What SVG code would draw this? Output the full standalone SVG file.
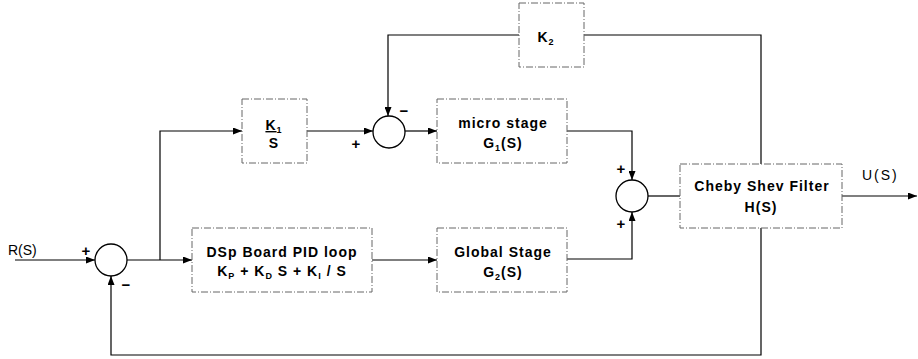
<svg xmlns="http://www.w3.org/2000/svg" width="918" height="359" viewBox="0 0 918 359">
<style>
.box{fill:#fff;stroke:#666;stroke-width:1;stroke-dasharray:7,2,1,2}
.sum{fill:#fff;stroke:#000;stroke-width:1.3}
.ln{fill:none;stroke:#000;stroke-width:1.2}
.lbl{font-family:"Liberation Sans",Arial,sans-serif;font-weight:bold;font-size:14px;fill:#000;text-anchor:middle;letter-spacing:1px}
.sub{font-size:9px}
.sg{font-family:"Liberation Sans",Arial,sans-serif;font-weight:bold;font-size:15px;fill:#000;text-anchor:middle}
.io{font-family:"Liberation Sans",Arial,sans-serif;font-size:14px;fill:#000}
</style>
<defs>
<marker id="ar" markerWidth="9" markerHeight="7" refX="9" refY="3.5" orient="auto" markerUnits="userSpaceOnUse">
<path d="M0,0 L9,3.5 L0,7 Z" fill="#000"/>
</marker>
</defs>
<rect width="918" height="359" fill="#fff"/>
<g id="connectors">
<path class="ln" d="M15,260 H95" marker-end="url(#ar)"/>
<path class="ln" d="M127,260 H192" marker-end="url(#ar)"/>
<path class="ln" d="M160,260 V131 H242" marker-end="url(#ar)"/>
<path class="ln" d="M307,131 H373" marker-end="url(#ar)"/>
<path class="ln" d="M405,131 H437" marker-end="url(#ar)"/>
<path class="ln" d="M519,35 H388 V116" marker-end="url(#ar)"/>
<path class="ln" d="M584,35 H761 V164"/>
<path class="ln" d="M372,260 H437" marker-end="url(#ar)"/>
<path class="ln" d="M567,131 H632 V180" marker-end="url(#ar)"/>
<path class="ln" d="M567,259 H632 V212" marker-end="url(#ar)"/>
<path class="ln" d="M648,196 H680"/>
<path class="ln" d="M842,196 H917" marker-end="url(#ar)"/>
<path class="ln" d="M761,228 V355 H111 V276" marker-end="url(#ar)"/>
</g>
<g id="sum1">
<circle class="sum" cx="111" cy="260" r="16"/>
<text class="sg" x="86" y="256">+</text>
<text class="sg" x="126" y="290">−</text>
</g>
<g id="sum2">
<circle class="sum" cx="389" cy="132" r="16"/>
<text class="sg" x="404" y="116">−</text>
<text class="sg" x="356" y="149">+</text>
</g>
<g id="sum3">
<circle class="sum" cx="632" cy="196" r="16"/>
<text class="sg" x="621" y="174">+</text>
<text class="sg" x="621" y="229">+</text>
</g>
<g id="k1">
<rect class="box" x="242" y="99" width="65" height="64"/>
<text class="lbl" x="274" y="130"><tspan text-decoration="underline">K</tspan><tspan class="sub" dy="3">1</tspan></text>
<text class="lbl" x="274" y="148">S</text>
</g>
<g id="k2">
<rect class="box" x="519" y="3" width="65" height="64"/>
<text class="lbl" x="546" y="42">K<tspan class="sub" dy="3">2</tspan></text>
</g>
<g id="micro">
<rect class="box" x="437" y="99" width="130" height="64"/>
<text class="lbl" x="503" y="128">micro stage</text>
<text class="lbl" x="503" y="148">G<tspan class="sub" dy="3">1</tspan><tspan dy="-3">(S)</tspan></text>
</g>
<g id="pid">
<rect class="box" x="192" y="228" width="180" height="64"/>
<text class="lbl" x="282" y="257">DSp Board PID loop</text>
<text class="lbl" x="282" y="276">K<tspan class="sub" dy="3">P</tspan><tspan dy="-3"> + K</tspan><tspan class="sub" dy="3">D</tspan><tspan dy="-3"> S + K</tspan><tspan class="sub" dy="3">I</tspan><tspan dy="-3"> / S</tspan></text>
</g>
<g id="global">
<rect class="box" x="437" y="228" width="130" height="64"/>
<text class="lbl" x="503" y="257">Global Stage</text>
<text class="lbl" x="503" y="277">G<tspan class="sub" dy="3">2</tspan><tspan dy="-3">(S)</tspan></text>
</g>
<g id="cheby">
<rect class="box" x="680" y="164" width="162" height="64"/>
<text class="lbl" x="762" y="191">Cheby Shev Filter</text>
<text class="lbl" x="761" y="212">H(S)</text>
</g>
<g id="io">
<text class="io" x="8" y="255">R(S)</text>
<text class="io" x="862" y="180" letter-spacing="2">U(S)</text>
</g>
</svg>
